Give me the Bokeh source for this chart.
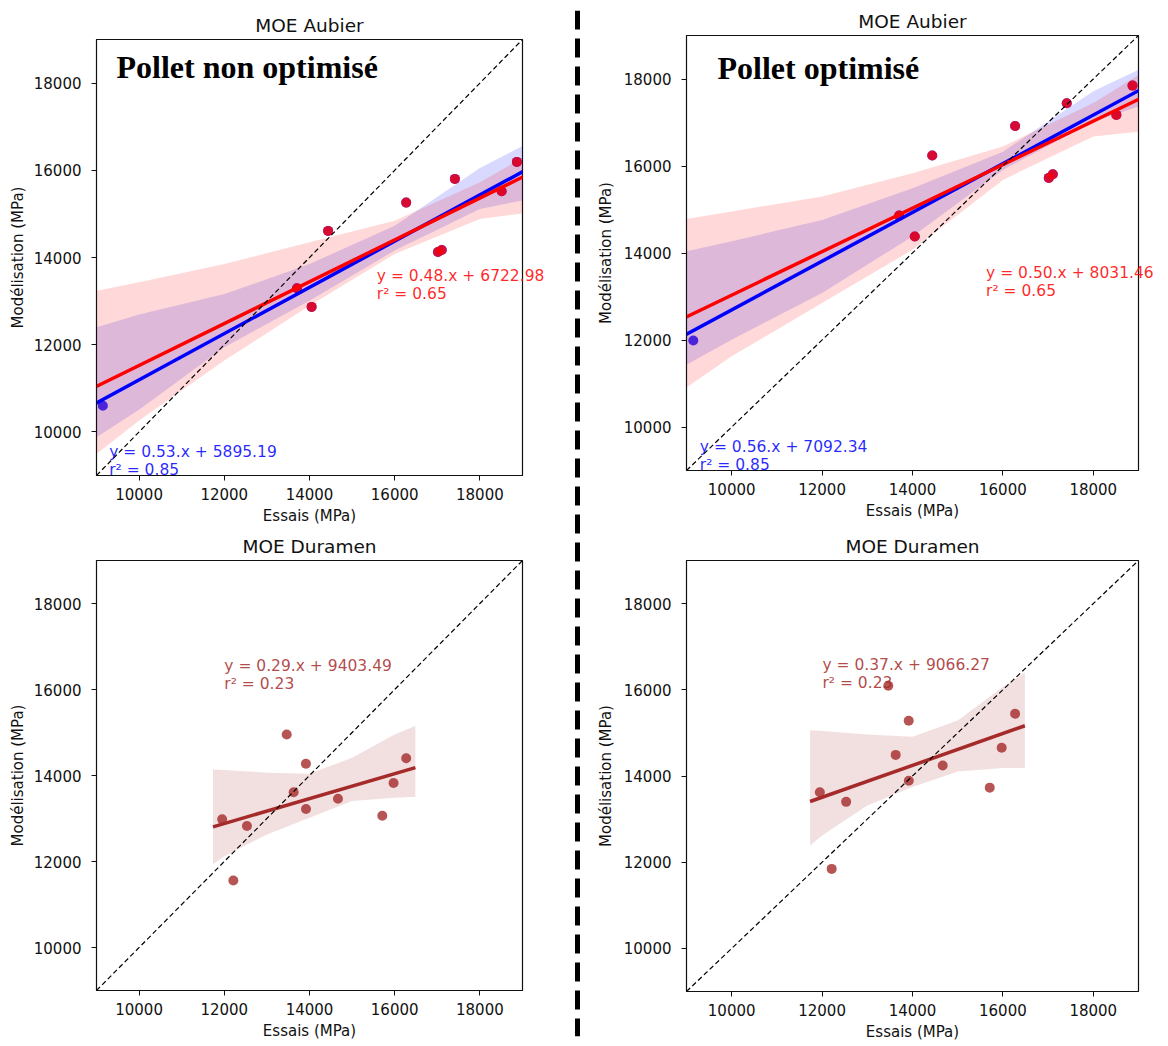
import numpy as np
from bokeh.plotting import figure
from bokeh.models import Range1d, FixedTicker, Label, Span
from bokeh.layouts import row, column
from bokeh.core.properties import value
from bokeh.embed import file_html
from bokeh.resources import INLINE

# ---------------- data ----------------
AXIS_LIM = [9000, 19000]
TICKS = [10000, 12000, 14000, 16000, 18000]

# MOE Aubier : test values (x) and model values (y)
aub_essais = [9150, 13705, 14050, 14437, 16270, 17015, 17104, 17413, 18510, 18868]
aub_non_opt = [10600, 13296, 12867, 14610, 15259, 14128, 14174, 15803, 15521, 16193]
aub_opt = [11990, 14860, 14380, 16240, 16920, 15727, 15810, 17441, 17175, 17848]

# MOE Duramen
dur_essais = [11950, 12212, 12532, 13465, 13628, 13916, 13918, 14668, 15709, 15973, 16270]
dur_non_opt = [12980, 11560, 12825, 14955, 13610, 14275, 13220, 13460, 13065, 13825, 14400]
dur_opt = [13625, 11845, 13400, 16095, 14490, 15280, 13890, 14245, 13730, 14655, 15445]

# regression results printed on the chart : slope, intercept, r2
fit_aub_non_opt_all = [0.53, 5895.19, 0.85]
fit_aub_non_opt_sub = [0.48, 6722.98, 0.65]
fit_aub_opt_all = [0.56, 7092.34, 0.85]
fit_aub_opt_sub = [0.50, 8031.46, 0.65]
fit_dur_non_opt = [0.29, 9403.49, 0.23]
fit_dur_opt = [0.37, 9066.27, 0.23]

# 95 % confidence bands
band_x_aub = [9000, 10000, 12000, 14000, 16000, 18000, 19000]
band_non_opt_all_up = [12400, 12690, 13160, 13850, 14730, 16050, 16560]
band_non_opt_all_lo = [9880, 10510, 11940, 13010, 14160, 15110, 15310]
band_non_opt_sub_up = [13240, 13430, 13850, 14350, 14845, 15725, 16290]
band_non_opt_sub_lo = [9495, 10260, 11635, 12895, 14080, 14885, 15010]
band_opt_all_up = [14040, 14270, 14760, 15490, 16330, 17720, 18210]
band_opt_all_lo = [11430, 12005, 13080, 14380, 15910, 17020, 17370]
band_opt_sub_up = [14780, 14955, 15300, 15835, 16450, 17450, 18090]
band_opt_sub_lo = [10910, 11625, 12850, 14075, 15680, 16680, 16790]

band_x_dur = [11735, 12000, 13000, 14000, 15000, 16000, 16485]
band_dur_non_opt_up = [14140, 14130, 14065, 14040, 14410, 14955, 15150]
band_dur_non_opt_lo = [11935, 12125, 12630, 13020, 13405, 13485, 13505]
band_dur_opt_up = [15060, 15045, 14965, 14910, 15290, 16065, 16400]
band_dur_opt_lo = [12390, 12620, 13315, 13745, 14105, 14185, 14185]

# ---------------- styles ----------------
FONT = "DejaVu Sans"
RED = "#ff0000"
BLUE = "#0000ff"
BROWN = "#a52a2a"
LINE_GAP = 415  # vertical gap (data units) between the two lines of an equation


def base_panel(title, fw, fh, left, top, bottom, right, ylab_standoff):
    p = figure(frame_width=fw, frame_height=fh,
               x_range=Range1d(*AXIS_LIM), y_range=Range1d(*AXIS_LIM),
               output_backend="svg", toolbar_location=None, tools="",
               min_border_left=left, min_border_top=top,
               min_border_bottom=bottom, min_border_right=right)
    p.title.text = title
    p.title.align = "center"
    p.title.text_font = FONT
    p.title.text_font_size = "18.5px"
    p.title.text_font_style = "normal"
    p.title.text_color = "#111111"
    p.title.standoff = 8
    p.xgrid.visible = False
    p.ygrid.visible = False
    p.outline_line_color = "#111111"
    p.outline_line_width = 1.2
    p.outline_line_alpha = 1
    for ax in (p.xaxis[0], p.yaxis[0]):
        ax.ticker = FixedTicker(ticks=TICKS, minor_ticks=[])
        ax.major_tick_out = 5
        ax.major_tick_in = 0
        ax.minor_tick_out = 0
        ax.minor_tick_in = 0
        ax.major_tick_line_color = "#111111"
        ax.axis_line_color = "#111111"
        ax.major_label_text_font = FONT
        ax.major_label_text_font_size = "15px"
        ax.major_label_text_color = "#111111"
        ax.axis_label_text_font = FONT
        ax.axis_label_text_font_size = "15px"
        ax.axis_label_text_font_style = "normal"
        ax.axis_label_text_color = "#111111"
    p.xaxis.axis_label = "Essais (MPa)"
    p.yaxis.axis_label = "Modélisation (MPa)"
    p.xaxis.major_label_standoff = 7
    p.xaxis.axis_label_standoff = 4
    p.yaxis.major_label_standoff = 10
    p.yaxis.axis_label_standoff = ylab_standoff
    return p


def fit_extent(xs):
    lo, hi = min(xs), max(xs)
    pad = 0.05 * (hi - lo)
    return np.array([lo - pad, hi + pad])


def eq_labels(p, fit, x, y, color):
    s, b, r2 = fit
    r = p.text(x=[x, x], y=[y, y - LINE_GAP],
               text=[f"y = {s:.2f}.x + {b:.2f}", f"r² = {r2:.2f}"],
               text_font=value(FONT), text_font_size=value("15.5px"),
               text_color=color, text_alpha=0.85,
               text_baseline="middle", text_align="left")
    r.level = "overlay"


def big_label(p, text, x, y):
    p.add_layout(Label(x=x, y=y, text=text, text_font="Liberation Serif",
                       text_font_style="bold", text_font_size="32px",
                       text_color="black", text_baseline="alphabetic"))


def aubier_panel(fw, fh, left, top, bottom, right, ystand, y_model,
                 fit_all, fit_sub, b_all_up, b_all_lo, b_sub_up, b_sub_lo,
                 name, name_xy, red_xy, blue_xy):
    p = base_panel("MOE Aubier", fw, fh, left, top, bottom, right, ystand)
    ext = fit_extent(aub_essais)
    # blue series : all points
    p.scatter(aub_essais, y_model, size=10, fill_color=BLUE, fill_alpha=0.8, line_color=None)
    p.varea(x=band_x_aub, y1=b_all_lo, y2=b_all_up, fill_color=BLUE, fill_alpha=0.15)
    # red series : without the lowest specimen
    p.scatter(aub_essais[1:], y_model[1:], size=10, fill_color=RED, fill_alpha=0.8, line_color=None)
    p.varea(x=band_x_aub, y1=b_sub_lo, y2=b_sub_up, fill_color=RED, fill_alpha=0.15)
    p.line(ext, fit_all[0] * ext + fit_all[1], line_color=BLUE, line_width=3.5)
    p.line(ext, fit_sub[0] * ext + fit_sub[1], line_color=RED, line_width=3.5)
    p.line(AXIS_LIM, AXIS_LIM, line_color="black", line_width=1.2, line_dash="5 3")
    eq_labels(p, fit_sub, red_xy[0], red_xy[1], RED)
    eq_labels(p, fit_all, blue_xy[0], blue_xy[1], BLUE)
    big_label(p, name, name_xy[0], name_xy[1])
    return p


def duramen_panel(fw, fh, left, top, bottom, right, ystand, y_model, fit, b_up, b_lo, txt_xy):
    p = base_panel("MOE Duramen", fw, fh, left, top, bottom, right, ystand)
    ext = fit_extent(dur_essais)
    p.scatter(dur_essais, y_model, size=10, fill_color=BROWN, fill_alpha=0.8, line_color=None)
    p.varea(x=band_x_dur, y1=b_lo, y2=b_up, fill_color=BROWN, fill_alpha=0.15)
    p.line(ext, fit[0] * ext + fit[1], line_color=BROWN, line_width=3.5)
    p.line(AXIS_LIM, AXIS_LIM, line_color="black", line_width=1.2, line_dash="5 3")
    eq_labels(p, fit, txt_xy[0], txt_xy[1], BROWN)
    return p


tl = aubier_panel(426, 436, 96, 39, 54, 45, 4, aub_non_opt,
                  fit_aub_non_opt_all, fit_aub_non_opt_sub,
                  band_non_opt_all_up, band_non_opt_all_lo,
                  band_non_opt_sub_up, band_non_opt_sub_lo,
                  "Pollet non optimisé", (9470, 18370), (15580, 13567), (9298, 9550))
tr = aubier_panel(452, 435, 99, 35, 59, 22, 6, aub_opt,
                  fit_aub_opt_all, fit_aub_opt_sub,
                  band_opt_all_up, band_opt_all_lo,
                  band_opt_sub_up, band_opt_sub_lo,
                  "Pollet optimisé", (9686, 18250), (15628, 13549), (9295, 9534))
bl = duramen_panel(426, 430, 96, 31, 52, 45, 4, dur_non_opt, fit_dur_non_opt,
                   band_dur_non_opt_up, band_dur_non_opt_lo, (12000, 16549))
br = duramen_panel(452, 431, 99, 29, 53, 22, 6, dur_opt, fit_dur_opt,
                   band_dur_opt_up, band_dur_opt_lo, (12007, 16569))

sep = figure(frame_width=20, frame_height=1026, x_range=Range1d(0, 1), y_range=Range1d(0, 1),
             output_backend="svg", toolbar_location=None, tools="",
             x_axis_location=None, y_axis_location=None,
             min_border_left=0, min_border_right=0, min_border_top=10, min_border_bottom=6,
             outline_line_color=None)
sep.xgrid.visible = False
sep.ygrid.visible = False
sep.add_layout(Span(location=0.5, dimension="height", line_color="black",
                    line_width=5, line_dash="19 9"))

layout = row(column(tl, bl, spacing=0), sep, column(tr, br, spacing=0), spacing=0)

open("out.html", "w").write(file_html(layout, INLINE))
